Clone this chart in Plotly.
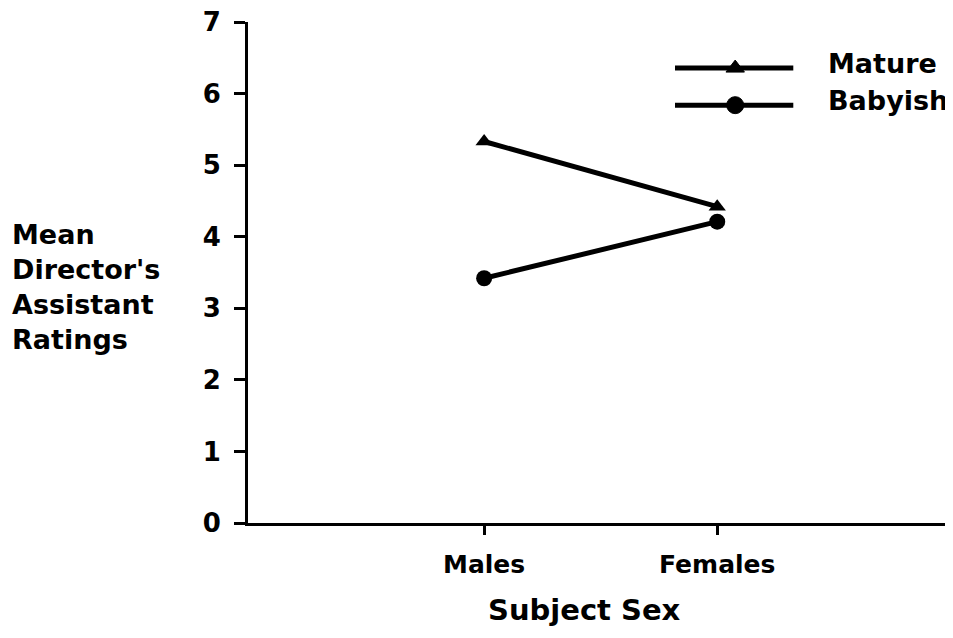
import plotly.graph_objects as go

categories = ["Males", "Females"]
mature = [5.33, 4.42]
babyish = [3.42, 4.21]
y_ticks = [0, 1, 2, 3, 4, 5, 6, 7]
series_names = ["Mature", "Babyish"]

FONT = "DejaVu Sans"
xpos = list(range(len(categories)))

fig = go.Figure()
fig.add_trace(go.Scatter(x=xpos, y=mature, mode="lines+markers", name=series_names[0],
                         line=dict(color="black", width=5),
                         marker=dict(symbol="triangle-up", size=15, color="black"),
                         showlegend=False))
fig.add_trace(go.Scatter(x=xpos, y=babyish, mode="lines+markers", name=series_names[1],
                         line=dict(color="black", width=5),
                         marker=dict(symbol="circle", size=16, color="black"),
                         showlegend=False))

# manual legend on an overlay axis in plot-area fractions
leg_y = [0.908, 0.834]
leg_sym = ["triangle-up", "circle"]
leg_size = [16, 17]
for name, ly, sym, sz in zip(series_names, leg_y, leg_sym, leg_size):
    fig.add_trace(go.Scatter(x=[0.61, 0.779], y=[ly, ly], mode="lines",
                             xaxis="x2", yaxis="y2", showlegend=False, hoverinfo="skip",
                             line=dict(color="black", width=5)))
    fig.add_trace(go.Scatter(x=[0.696], y=[ly], mode="markers",
                             xaxis="x2", yaxis="y2", showlegend=False, hoverinfo="skip",
                             marker=dict(symbol=sym, size=sz, color="black", opacity=1,
                                         line=dict(width=1, color="black"))))
    fig.add_annotation(x=0.826, y=ly + 0.01, xref="x2", yref="y2", text=name, showarrow=False,
                       xanchor="left", yanchor="middle",
                       font=dict(family=FONT, size=27, color="black", weight="bold"))

fig.update_layout(
    width=945, height=630,
    margin=dict(l=240, r=5, t=14, b=115, autoexpand=False),
    paper_bgcolor="white", plot_bgcolor="white",
    xaxis=dict(range=[-1.013, 1.99], tickvals=xpos, ticktext=categories, automargin=False,
               showline=True, linecolor="black", linewidth=3, showgrid=False, zeroline=False,
               ticks="outside", ticklen=9, tickwidth=3, tickcolor="black", ticklabelstandoff=8,
               tickfont=dict(family=FONT, size=25, color="black", weight="bold")),
    yaxis=dict(range=[0, 7], tickvals=y_ticks, ticklabeloverflow="allow", automargin=False,
               showline=True, linecolor="black", linewidth=3, showgrid=False, zeroline=False,
               ticks="outside", ticklen=11, tickwidth=3, tickcolor="black", ticklabelstandoff=8,
               tickfont=dict(family=FONT, size=26, color="black", weight="bold")),
    xaxis2=dict(range=[0, 1], overlaying="x", visible=False, fixedrange=True),
    yaxis2=dict(range=[0, 1], overlaying="y", visible=False, fixedrange=True),
)

fig.add_annotation(x=-0.34, y=0.471, xref="paper", yref="paper",
                   text="Mean<br>Director's<br>Assistant<br>Ratings", showarrow=False,
                   xanchor="left", yanchor="middle", align="left",
                   font=dict(family=FONT, size=27, color="black", weight="bold"))
fig.add_annotation(x=0.481, y=-0.174, xref="paper", yref="paper", text="Subject Sex",
                   showarrow=False, xanchor="center", yanchor="middle",
                   font=dict(family=FONT, size=29, color="black", weight="bold"))

fig.write_html("out.html")
